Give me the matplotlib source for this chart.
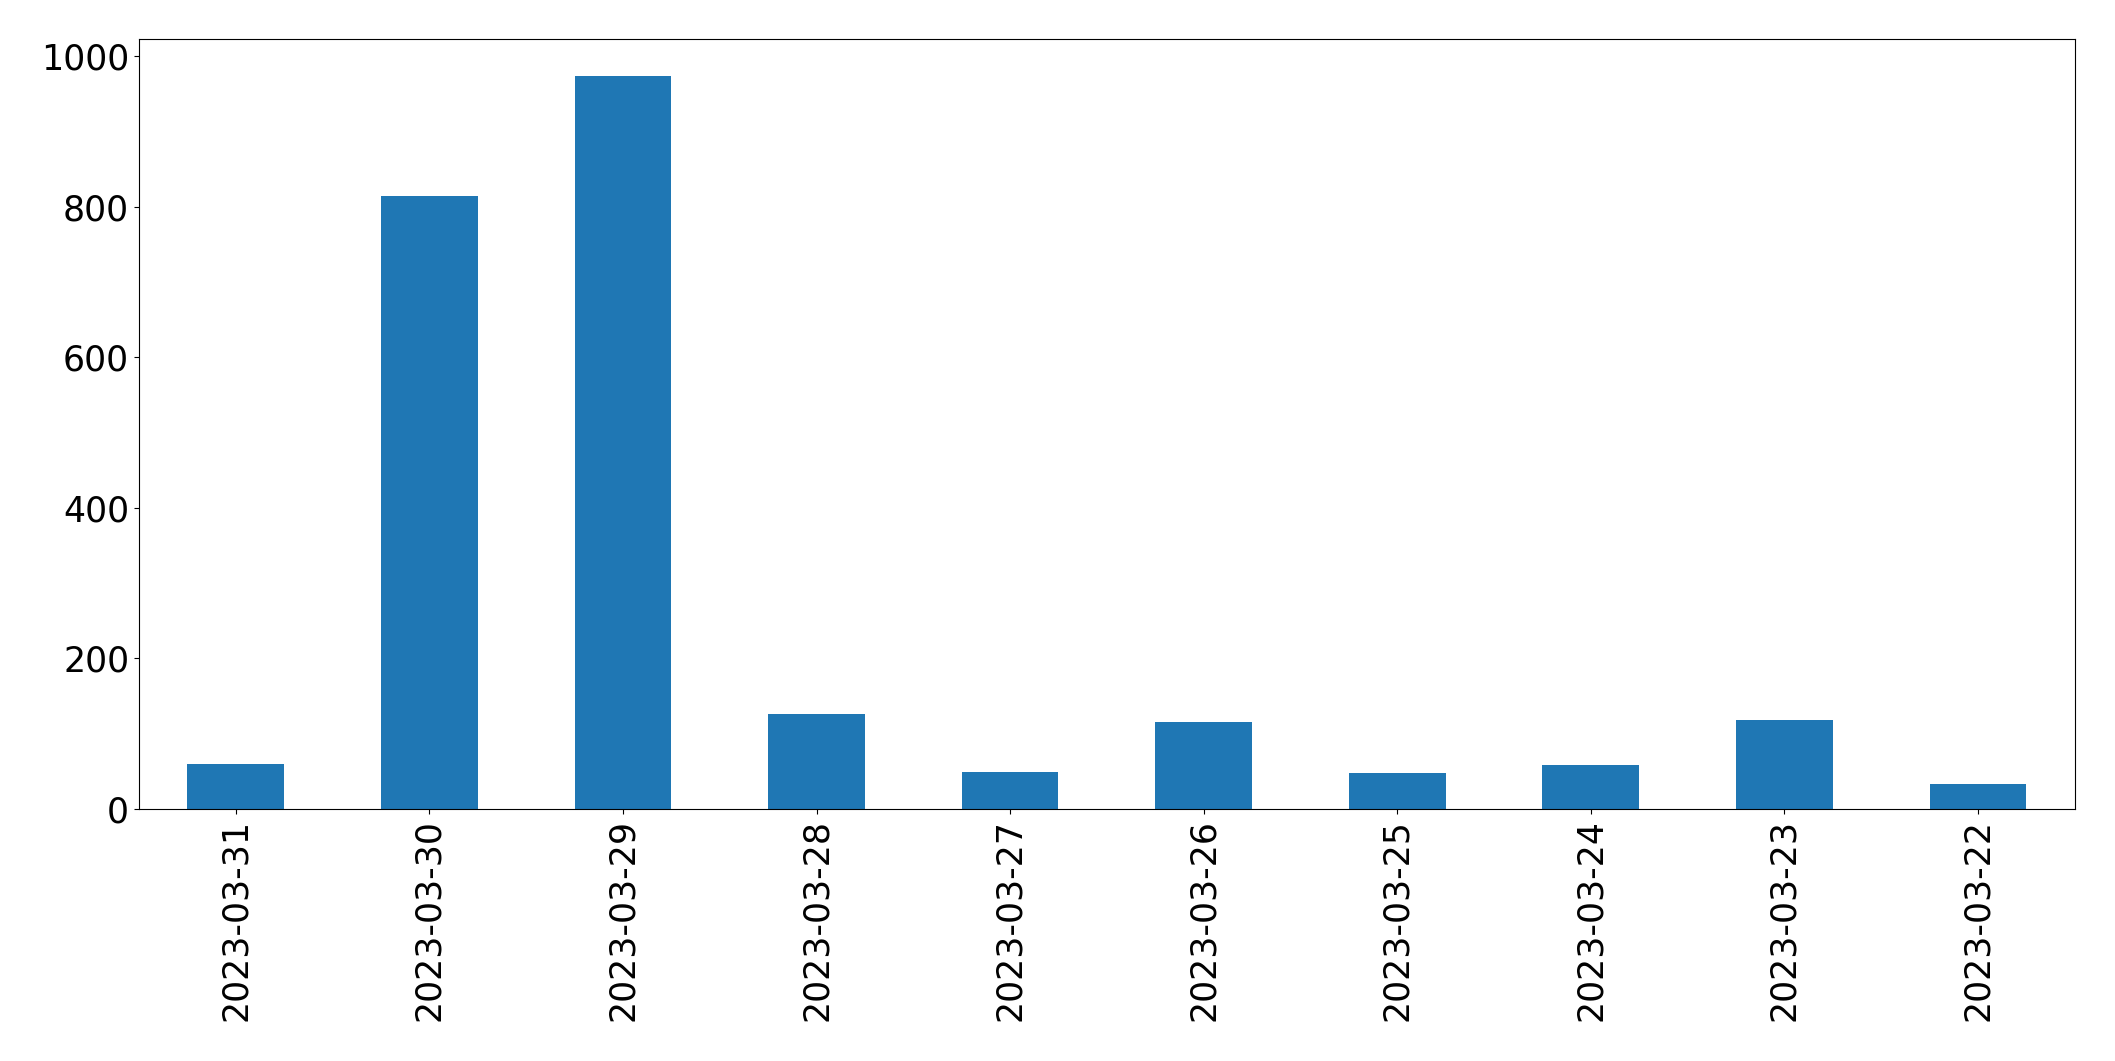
import numpy as np
import matplotlib
matplotlib.use("Agg")
import matplotlib.pyplot as plt

# daily counts, newest first (as in the original)
dates = ["2023-03-31", "2023-03-30", "2023-03-29", "2023-03-28", "2023-03-27",
         "2023-03-26", "2023-03-25", "2023-03-24", "2023-03-23", "2023-03-22"]
counts = [60, 814, 974, 126, 49, 115, 48, 58, 118, 33]

fig = plt.figure(figsize=(21.15, 10.61), dpi=100)
ax = fig.add_axes([0.0657, 0.2375, 0.9153, 0.7257])

x = np.arange(len(dates))
ax.bar(x, counts, width=0.5, color="#1f77b4")
ax.set_xlim(-0.5, len(dates) - 0.5)
ax.set_ylim(0, 1023)
ax.set_xticks(x)
ax.set_xticklabels(dates, rotation=90)
ax.set_yticks([0, 200, 400, 600, 800, 1000])
ax.tick_params(labelsize=25)

fig.savefig("out.png", dpi=100)
